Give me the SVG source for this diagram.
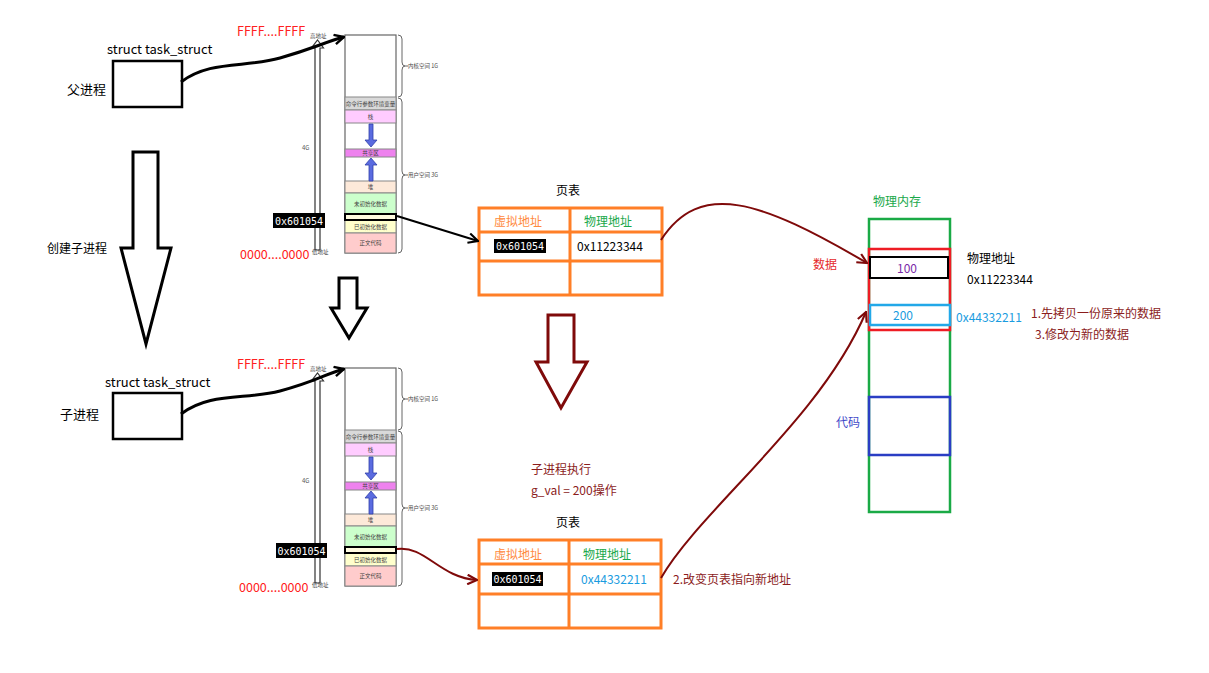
<svg xmlns="http://www.w3.org/2000/svg" xmlns:xlink="http://www.w3.org/1999/xlink" width="1209" height="673" viewBox="0 0 1209 673">
<style>
text { font-family: "Noto Sans CJK SC", "Liberation Sans", sans-serif; }
.t12 { font-size: 12px; fill: #000; }
.t13 { font-size: 13px; fill: #000; }
.tiny { font-size: 5.5px; fill: #444; }
.small { font-size: 6px; fill: #555; }
.red { fill: #ff2020; font-size: 12.5px; }
.dk { fill: #8b1c1c; font-size: 12px; }
.mono { font-family: "DejaVu Sans Mono", "Liberation Mono", monospace; font-size: 10px; fill: #fff; }
.seg { stroke: #888; stroke-width: 1; }
.box { fill: #fff; stroke: #000; stroke-width: 2.5; }
.pt { fill: none; stroke: #ff7f27; stroke-width: 3; }
.bigarrow { fill: #fff; stroke: #000; stroke-width: 3; stroke-linejoin: miter; }
.conn-k { fill: none; stroke: #000; }
.conn-r { fill: none; stroke: #7f0a0a; stroke-width: 2; }
.blue-arrow { fill: #5a6be0; stroke: #3040a8; stroke-width: 0.8; }
</style>
<defs>
<marker id="ak" viewBox="0 0 10 10" refX="9" refY="5" markerWidth="4" markerHeight="4" orient="auto" markerUnits="strokeWidth">
<path d="M1,1 L9,5 L1,9" fill="none" stroke="#000" stroke-width="2"/>
</marker>
<marker id="ak2" viewBox="0 0 10 10" refX="9" refY="5" markerWidth="6" markerHeight="6" orient="auto" markerUnits="strokeWidth">
<path d="M1,1 L9,5 L1,9" fill="none" stroke="#000" stroke-width="1.8"/>
</marker>
<marker id="ar" viewBox="0 0 10 10" refX="9" refY="5" markerWidth="6" markerHeight="6" orient="auto" markerUnits="strokeWidth">
<path d="M1,1 L9,5 L1,9" fill="none" stroke="#7f0a0a" stroke-width="1.8"/>
</marker>
<g id="memlayout">
<path d="M315 250 L315 48 L311.5 48 L317.5 40 L323.5 48 L320 48 L320 250 Z" fill="#fff" stroke="#333" stroke-width="1.2"/>
<text x="310" y="38" class="tiny">高地址</text>
<text x="312" y="254" class="tiny">低地址</text>
<text x="302" y="150" class="small">4G</text>
<rect x="345" y="35" width="51" height="218" fill="#fff" stroke="#666" stroke-width="1.2"/>
<rect x="345" y="97" width="51" height="13" fill="#d9d9d9" class="seg"/>
<rect x="345" y="110" width="51" height="13" fill="#ffccff" class="seg"/>
<rect x="345" y="149" width="51" height="8" fill="#ee82ee" class="seg"/>
<rect x="345" y="181" width="51" height="12" fill="#fde9d9" class="seg"/>
<rect x="345" y="193" width="51" height="21" fill="#ccffcc" class="seg"/>
<rect x="345" y="220" width="51" height="13" fill="#ffffcc" class="seg"/>
<rect x="345" y="233" width="51" height="20" fill="#ffcccc" class="seg"/>
<rect x="345" y="214" width="51" height="6" fill="#fffbe0" stroke="#000" stroke-width="2"/>
<text x="370.5" y="106" class="tiny" text-anchor="middle">命令行参数环境变量</text>
<text x="370.5" y="119" class="tiny" text-anchor="middle">栈</text>
<text x="370.5" y="155" class="tiny" text-anchor="middle">共享区</text>
<text x="370.5" y="189" class="tiny" text-anchor="middle">堆</text>
<text x="370.5" y="206" class="tiny" text-anchor="middle">未初始化数据</text>
<text x="370.5" y="229" class="tiny" text-anchor="middle">已初始化数据</text>
<text x="370.5" y="245" class="tiny" text-anchor="middle">正文代码</text>
<path d="M369 124 L373 124 L373 140 L377 140 L371 147 L365 140 L369 140 Z" class="blue-arrow"/>
<path d="M369 181 L373 181 L373 165 L377 165 L371 158 L365 165 L369 165 Z" class="blue-arrow"/>
<path d="M398 35 Q402 35 402 39 L402 62 Q402 66 405 66 Q402 66 402 70 L402 93 Q402 97 398 97" fill="none" stroke="#555" stroke-width="0.9"/>
<path d="M398 98 Q402 98 402 102 L402 171 Q402 175 405 175 Q402 175 402 179 L402 249 Q402 253 398 253" fill="none" stroke="#555" stroke-width="0.9"/>
<line x1="405" y1="66" x2="408" y2="66" stroke="#555" stroke-width="0.9"/>
<line x1="405" y1="175" x2="408" y2="175" stroke="#555" stroke-width="0.9"/>
<text x="408" y="68" class="tiny">内核空间 1G</text>
<text x="408" y="177" class="tiny">用户空间 3G</text>
</g>
</defs>

<g id="parent-process">
<text x="107" y="54" class="t13">struct task_struct</text>
<rect x="113" y="61" width="69" height="46" class="box"/>
<text x="67" y="94" class="t13">父进程</text>
</g>

<g id="create-arrow">
<path d="M133 152 L158 152 L158 248 L171 248 L146 344 L121 248 L133 248 Z" class="bigarrow"/>
<text x="47" y="253" class="t12">创建子进程</text>
</g>

<g id="child-process">
<text x="105" y="387" class="t13">struct task_struct</text>
<rect x="113" y="393" width="69" height="46" class="box"/>
<text x="60" y="419" class="t13">子进程</text>
</g>

<g id="mem-top">
<text x="237" y="36" class="red">FFFF....FFFF</text>
<text x="240" y="259" class="red">0000....0000</text>
<use xlink:href="#memlayout"/>
<rect x="273" y="213" width="52" height="15" fill="#000"/>
<text x="299" y="224.5" class="mono" text-anchor="middle">0x601054</text>
</g>

<g id="mem-arrow">
<path d="M339 278 L357 278 L357 308 L367 308 L349 338 L331 308 L339 308 Z" class="bigarrow"/>
</g>

<g id="mem-bottom">
<text x="237" y="369" class="red">FFFF....FFFF</text>
<text x="239" y="592" class="red">0000....0000</text>
<use xlink:href="#memlayout" transform="translate(0,333)"/>
<rect x="276" y="543" width="51" height="15" fill="#000"/>
<text x="301.5" y="554.5" class="mono" text-anchor="middle">0x601054</text>
</g>

<g id="pagetable-top">
<text x="556" y="195" class="t12">页表</text>
<rect x="479" y="208" width="183" height="87" class="pt"/>
<line x1="570" y1="208" x2="570" y2="295" class="pt"/>
<line x1="479" y1="232" x2="662" y2="232" class="pt"/>
<line x1="479" y1="261" x2="662" y2="261" class="pt"/>
<text x="494" y="226" class="t12" style="fill:#ff8a3d">虚拟地址</text>
<text x="584" y="226" class="t12" style="fill:#19a84a">物理地址</text>
<rect x="494" y="239" width="52" height="14" fill="#000"/>
<text x="520" y="250" class="mono" text-anchor="middle">0x601054</text>
<text x="577" y="251" class="t12">0x11223344</text>
</g>

<g id="pt-arrow">
<path d="M548 315 L574 315 L574 362 L587 362 L561 408 L536 362 L548 362 Z" fill="#fff" stroke="#7f0a0a" stroke-width="3"/>
</g>

<g id="child-exec">
<text x="531" y="474" class="dk">子进程执行</text>
<text x="531" y="495" class="dk">g_val = 200操作</text>
</g>

<g id="pagetable-bottom">
<text x="556" y="527" class="t12">页表</text>
<rect x="479" y="540" width="182" height="88" class="pt"/>
<line x1="569" y1="540" x2="569" y2="628" class="pt"/>
<line x1="479" y1="564" x2="661" y2="564" class="pt"/>
<line x1="479" y1="594" x2="661" y2="594" class="pt"/>
<text x="494" y="559" class="t12" style="fill:#ff8a3d">虚拟地址</text>
<text x="583" y="559" class="t12" style="fill:#19a84a">物理地址</text>
<rect x="492" y="572" width="51" height="14" fill="#000"/>
<text x="517.5" y="583" class="mono" text-anchor="middle">0x601054</text>
<text x="581" y="584" class="t12" style="fill:#1a9ce0">0x44332211</text>
<text x="673" y="584" class="dk">2.改变页表指向新地址</text>
</g>

<g id="physical-memory">
<text x="873" y="206" class="t12" style="fill:#19a84a">物理内存</text>
<rect x="869" y="219" width="81" height="293" fill="none" stroke="#1aaa46" stroke-width="2.5"/>
<rect x="869" y="249" width="81" height="81" fill="none" stroke="#ee1c24" stroke-width="2.5"/>
<rect x="870" y="257" width="78" height="21" fill="#fff" stroke="#000" stroke-width="2"/>
<text x="907" y="273" class="t12" text-anchor="middle" style="fill:#7a2aa8">100</text>
<rect x="870" y="305" width="80" height="20" fill="#fff" stroke="#22a8e8" stroke-width="2.5"/>
<text x="903" y="320" class="t12" text-anchor="middle" style="fill:#1a9ce0">200</text>
<rect x="869" y="397" width="81" height="58" fill="none" stroke="#2a3ec4" stroke-width="2.5"/>
<text x="836" y="427" class="t12" style="fill:#4048c8">代码</text>
<text x="813" y="269" class="t12" style="fill:#e5282b">数据</text>
<text x="967" y="263" class="t12">物理地址</text>
<text x="967" y="284" class="t12">0x11223344</text>
<text x="956" y="322" class="t12" style="fill:#1a9ce0">0x44332211</text>
<text x="1031" y="318" class="dk">1.先拷贝一份原来的数据</text>
<text x="1035" y="339" class="dk">3.修改为新的数据</text>
</g>

<g id="connectors">
<path d="M181 82 C210 60, 245 68, 280 58 S325 42, 344 37" class="conn-k" stroke-width="3" marker-end="url(#ak)"/>
<path d="M181 414 C210 392, 245 400, 280 391 S325 374, 344 369" class="conn-k" stroke-width="3" marker-end="url(#ak)"/>
<path d="M397 216 L478 241" class="conn-k" stroke-width="2" marker-end="url(#ak2)"/>
<path d="M397 549 C425 545, 440 578, 477 580" class="conn-r" marker-end="url(#ar)"/>
<path d="M661 240 C700 180, 760 200, 867 263" class="conn-r" marker-end="url(#ar)"/>
<path d="M661 578 C700 510, 820 420, 866 312" class="conn-r" marker-end="url(#ar)"/>
</g>
</svg>
